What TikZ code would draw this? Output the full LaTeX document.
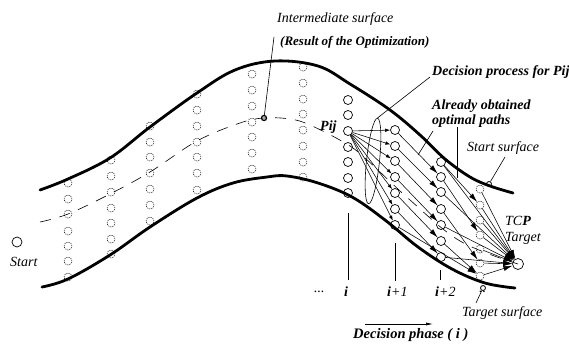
\documentclass[tikz,border=0pt]{standalone}
\usepackage{fontspec}
\setmainfont{Liberation Serif}
\usetikzlibrary{arrows.meta,shapes.geometric}
\begin{document}
\begin{tikzpicture}[x=1pt,y=-1pt,
  bound/.style={line width=2.8pt, line cap=round},
  thinl/.style={line width=0.6pt},
  dotc/.style={circle, draw, dash pattern=on 1.2pt off 1pt, line width=0.5pt, minimum size=8pt, inner sep=0pt},
  solc/.style={circle, draw, line width=0.7pt, minimum size=9pt, inner sep=0pt},
  markc/.style={circle, draw, line width=0.8pt, minimum size=5pt, inner sep=0pt},
  pa/.style={line width=0.55pt, -{Latex[length=5pt,width=3.5pt]}},
  ba/.style={line width=0.55pt, -{Latex[length=9pt,width=5pt]}},
  lab/.style={font=\fontsize{14}{16}\selectfont\itshape, inner sep=0pt, anchor=west},
  blab/.style={font=\fontsize{14}{16}\selectfont\bfseries\itshape, inner sep=0pt, anchor=west},
]
\useasboundingbox (0,0) rectangle (569,345);

% boundaries of the tube
\draw[bound] plot[smooth, tension=0.6] coordinates {(40,190) (68,179) (110,158) (150,127) (197,93) (235,70) (275,61) (318,66) (350,84) (390,110) (420,135) (445,159) (470,177) (490,186) (513,193)};
\draw[bound] plot[smooth, tension=0.6] coordinates {(42,287) (68,279) (110,255) (150,227) (197,198) (233,183) (267,177) (287,176) (318,183) (352,197) (385,220) (418,247) (452,269) (485,283) (515,288)};

% dashed centre line
\draw[line width=0.6pt, dash pattern=on 11pt off 9pt] plot[smooth, tension=0.6] coordinates {(40,222) (68,214) (110,194) (150,172) (197,141) (240,123) (264,118) (290,119) (310,125) (345,143) (365,158) (410,200) (460,241) (518,264)};

% dotted columns
\foreach \y [count=\n] in {183,199,214,231,246,261,277} \node[dotc] (a\n) at (68,\y) {};
\foreach \y [count=\n] in {160,176,192,208,223,239,254} \node[dotc] (b\n) at (111,\y) {};
\foreach \y [count=\n] in {126,142,157,173,189,205,221} \node[dotc] (c\n) at (150,\y) {};
\foreach \y [count=\n] in {94,110,126,142,157,173,190} \node[dotc] (d\n) at (197,\y) {};
\foreach \y [count=\n] in {74,90,106,122,137,153,169} \node[dotc] (e\n) at (252,\y) {};
\foreach \y [count=\n] in {67,83,99,114,130,146,162,177} \node[dotc] (f\n) at (303,\y) {};
\foreach \y [count=\n] in {189,205,220,235,249,263,276} \node[dotc] (l\n) at (480,\y) {};

% solid columns i, i+1, i+2
\foreach \y [count=\n] in {100,115,131,147,162,178,193} \node[solc] (i\n) at (348,\y) {};
\foreach \y [count=\n] in {130,146,161,177,193,209,225} \node[solc] (j\n) at (395,\y) {};
\foreach \y [count=\n] in {162,177,192,209,225,241,257} \node[solc] (k\n) at (441,\y) {};

% start and target
\node[solc, minimum size=10pt] (S) at (17,242) {};
\node[solc, minimum size=11pt] (T) at (518,264) {};

% decision process from Pij
\foreach \n in {1,...,7} \draw[pa] (i3) -- (j\n);

% already obtained optimal paths
\draw[ba] (j1) -- (k2);
\draw[ba] (j2) -- (k3);
\draw[ba] (j3) -- (k4);
\draw[ba] (j4) -- (k5);
\draw[ba] (j5) -- (k6);
\draw[ba] (j6) -- (k7);
\draw[ba] (j7) -- (l7);
\draw[ba] (k1) -- (l2);
\draw[ba] (k2) -- (l4);
\draw[ba] (k4) -- (l6);
\draw[ba] (k6) -- (l7);
\draw[ba] (k1) -- (T);
\draw[ba] (k3) -- (T);
\draw[ba] (k5) -- (T);
\draw[ba] (k7) -- (T);
\foreach \n in {1,...,7} \draw[ba] (l\n) -- (T);

% ellipse around the decision fan
\node[ellipse, draw, line width=0.6pt, minimum width=13pt, minimum height=86pt, inner sep=0pt, rotate=-6] (ell) at (373,161) {};

% intermediate surface marker
\node[markc, line width=1.3pt] (im) at (264,118) {};
\coordinate (imt) at (274,37);
\draw[thinl] (im) -- (imt);

% labels
\node[lab] (is) at (277,19) {Intermediate surface};
\node[blab, font=\fontsize{13}{15}\selectfont\bfseries\itshape] (ro) at (280,42) {(Result of the Optimization)};
\node[blab] (dp) at (432,72) {Decision process for Pij};
\node[blab] (ao) at (432,106) {Already obtained};
\node[blab] (op) at (432,121) {optimal paths};
\node[lab] (ss) at (467,148) {Start surface};
\node[blab] (pl) at (320,127) {Pij};
\node[lab] (tcp) at (505,221) {TC\textbf{P}};
\node[lab] (tg) at (505,238) {Target};
\node[lab] (st) at (10,262) {Start};
\node[lab] (dl) at (314,292) {...};
\node[lab] (li) at (344,292) {\textbf{i}};
\node[lab] (li1) at (387,292) {\textbf{i}+1};
\node[lab] (li2) at (435,292) {\textbf{i}+2};
\node[lab] (dr) at (479,292) {..};
\node[lab] (ts) at (462,313) {Target surface};
\node[blab, font=\fontsize{14.5}{16}\selectfont\bfseries\itshape] (dph) at (353,335) {Decision phase ( i )};

% pointers
\coordinate (dpp) at (430,77);
\draw[thinl] (dpp) -- (ell.north);
\coordinate (op1) at (433,131);
\coordinate (op2) at (418,155);
\draw[thinl] (op1) -- (op2);
\coordinate (op3) at (457,127);
\coordinate (op4) at (457,178);
\draw[thinl] (op3) -- (op4);
\node[markc] (ssm) at (489,184) {};
\coordinate (ssp) at (505,157);
\draw[thinl] (ssp) -- (ssm);
\node[markc] (tsm) at (483,288) {};
\coordinate (tsp) at (476,303);
\draw[thinl] (tsm) -- (tsp);

% phase ticks
\coordinate (t1a) at (348,213); \coordinate (t1b) at (348,280);
\coordinate (t2a) at (395,243); \coordinate (t2b) at (395,281);
\coordinate (t3a) at (440,270); \coordinate (t3b) at (440,280);
\draw[thinl] (t1a) -- (t1b);
\draw[thinl] (t2a) -- (t2b);
\draw[thinl] (t3a) -- (t3b);

% decision phase arrow
\coordinate (pa1) at (365,324);
\coordinate (pa2) at (433,324);
\draw[thinl, -{Latex[length=7pt,width=3pt]}] (pa1) -- (pa2);
\end{tikzpicture}
\end{document}
